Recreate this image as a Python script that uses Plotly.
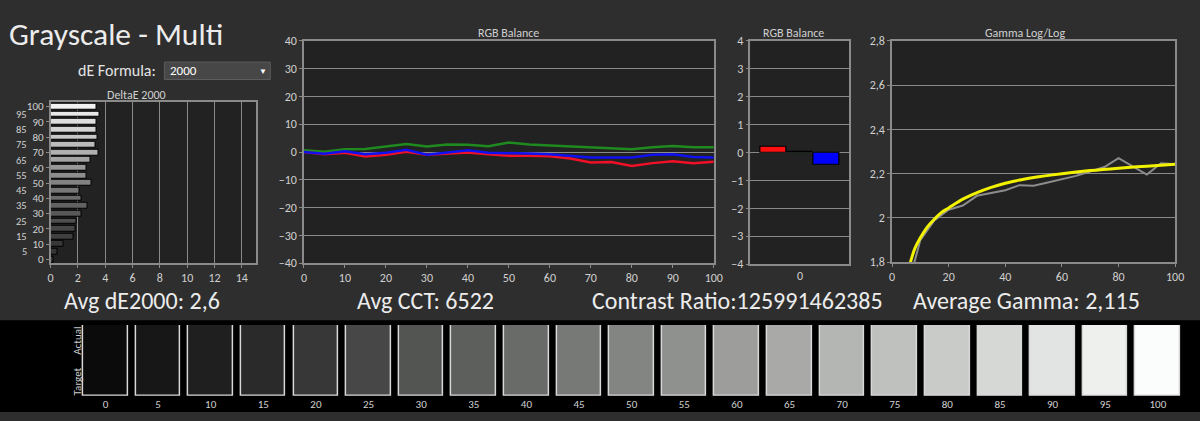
import plotly.graph_objects as go

W, H = 1200, 421
FONT = "Carlito, Calibri, Lato, 'Open Sans', sans-serif"
BG = "#2e2e2e"
PLOT_BG = "#222222"
GRID = "#8a8a8a"
TXT = "#d0d0d0"

# ---------------- data ----------------
de_levels = [0, 5, 10, 15, 20, 25, 30, 35, 40, 45, 50, 55, 60, 65, 70, 75, 80, 85, 90, 95, 100]
de_values = [0.2, 0.5, 0.93, 1.7, 1.85, 1.9, 2.3, 2.7, 2.25, 2.1, 3.0, 2.6, 2.65, 2.95, 3.5, 3.3, 3.45, 3.35, 3.4, 3.6, 3.4]
de_colors = ["#3a3a3a", "#353535", "#383838", "#404040", "#474747", "#4f4f4f", "#585858", "#626262",
             "#6c6c6c", "#777777", "#828282", "#8d8d8d", "#989898", "#a4a4a4", "#b0b0b0", "#bcbcbc",
             "#c8c8c8", "#d4d4d4", "#dedede", "#e8e8e8", "#f2f2f2"]
de_even_ticks = [0, 10, 20, 30, 40, 50, 60, 70, 80, 90, 100]
de_odd_ticks = [5, 15, 25, 35, 45, 55, 65, 75, 85, 95]

rgb_x = [0, 5, 10, 15, 20, 25, 30, 35, 40, 45, 50, 55, 60, 65, 70, 75, 80, 85, 90, 95, 100]
rgb_red = [0.0, -0.8, -0.3, -1.6, -1.0, 0.1, -1.0, -0.7, -0.2, -0.8, -1.3, -1.3, -1.5, -2.3, -3.8, -3.6, -5.0, -4.0, -3.3, -4.0, -3.5]
rgb_green = [0.6, 0.1, 1.0, 1.1, 2.0, 2.9, 2.0, 2.7, 2.6, 2.1, 3.4, 2.7, 2.3, 2.0, 1.7, 1.5, 1.0, 1.7, 2.2, 1.7, 1.7]
rgb_blue = [0.0, -0.6, 0.3, -0.8, -0.3, 0.8, -1.0, -0.2, 0.6, -0.3, -0.3, -0.5, -0.8, -1.4, -2.0, -2.0, -2.0, -1.0, -0.8, -1.8, -2.0]

bal_channels = ["Red", "Green", "Blue"]
bal_values = [0.22, 0.02, -0.44]
bal_colors = ["#ff1010", "#10a010", "#0000ff"]

gamma_x = [5, 10, 15, 20, 25, 30, 35, 40, 45, 50, 55, 60, 65, 70, 75, 80, 85, 90, 95, 100]
gamma_meas = [1.66, 1.90, 1.99, 2.037, 2.056, 2.10, 2.113, 2.125, 2.148, 2.145, 2.16, 2.176, 2.19, 2.21, 2.23, 2.27, 2.233, 2.196, 2.247, 2.243]
gamma_tx = [5.5, 6.5, 8, 10, 12.5, 15, 17.5, 20, 25, 30, 35, 40, 45, 50, 60, 70, 80, 90, 100]
gamma_ty = [1.76, 1.80, 1.86, 1.91, 1.96, 1.995, 2.025, 2.045, 2.085, 2.114, 2.138, 2.157, 2.171, 2.183, 2.2, 2.214, 2.225, 2.234, 2.243]

swatch_levels = ["0", "5", "10", "15", "20", "25", "30", "35", "40", "45", "50", "55", "60", "65", "70", "75", "80", "85", "90", "95", "100"]
swatch_colors = ["#0b0b0b", "#171717", "#1f1f1f", "#2a2a2a", "#373737", "#464746", "#535553", "#5d5f5d",
                 "#696b69", "#777977", "#838583", "#8f918e", "#9d9e9c", "#a9aaa8", "#b4b6b3", "#bfc1be",
                 "#c9cbc8", "#d6d8d6", "#e2e4e3", "#eef0ee", "#fbfdfc"]
swatch_heights = [1] * len(swatch_levels)

stats = ["Avg dE2000: 2,6", "Avg CCT: 6522", "Contrast Ratio:125991462385", "Average Gamma: 2,115"]


def px(x):
    return x / W


def py(y):
    return 1 - y / H


fig = go.Figure()

# DeltaE bars
fig.add_trace(go.Bar(x=de_values, y=de_levels, orientation="h", width=3.8,
                     marker=dict(color=de_colors, line=dict(color="#000000", width=1)),
                     xaxis="x", yaxis="y", showlegend=False))

# RGB balance lines
for vals, col in [(rgb_green, "#1f8a1f"), (rgb_red, "#f01028"), (rgb_blue, "#1010f0")]:
    fig.add_trace(go.Scatter(x=rgb_x, y=vals, mode="lines", line=dict(color=col, width=2.5),
                             xaxis="x2", yaxis="y2", showlegend=False))

# RGB balance small bars
fig.add_trace(go.Bar(x=bal_channels, y=bal_values, width=0.96,
                     marker=dict(color=bal_colors, line=dict(color="#000000", width=1.2)),
                     xaxis="x3", yaxis="y3", showlegend=False))

# Gamma
fig.add_trace(go.Scatter(x=gamma_x, y=gamma_meas, mode="lines", line=dict(color="#8c8c8c", width=2),
                         xaxis="x4", yaxis="y4", showlegend=False))
fig.add_trace(go.Scatter(x=gamma_tx, y=gamma_ty, mode="lines", line=dict(color="#f2f200", width=3, shape="spline"),
                         xaxis="x4", yaxis="y4", showlegend=False))

# Swatches
fig.add_trace(go.Bar(x=swatch_levels, y=swatch_heights, width=0.847,
                     marker=dict(color=swatch_colors, line=dict(color="#d8d8d8", width=1.5)),
                     xaxis="x5", yaxis="y5", showlegend=False))

axis_common = dict(showline=True, mirror=True, linecolor=GRID, linewidth=1.5, ticks="outside", ticklen=3,
                   tickcolor=GRID, tickfont=dict(size=12, color=TXT), zeroline=False, gridcolor=GRID, gridwidth=1.2)

fig.update_layout(
    width=W, height=H, margin=dict(l=0, r=0, t=0, b=0),
    paper_bgcolor=BG, plot_bgcolor="rgba(0,0,0,0)",
    font=dict(family=FONT, color=TXT),
    separators=",.",
    bargap=0,
    xaxis=dict(axis_common, domain=[px(48), px(256)], anchor="y", range=[0, 15.07], dtick=2, tick0=0,
               showgrid=True, tickfont=dict(size=12, color=TXT)),
    yaxis=dict(axis_common, domain=[py(265), py(98)], anchor="x", range=[-2.5, 103.2], tickvals=de_even_ticks,
               showgrid=False, tickfont=dict(size=11, color=TXT)),
    xaxis2=dict(axis_common, domain=[px(304), px(718)], anchor="y2", range=[0, 100], dtick=10, showgrid=False),
    yaxis2=dict(axis_common, domain=[py(265), py(35)], anchor="x2", range=[-40, 40], dtick=10, showgrid=True),
    xaxis3=dict(axis_common, domain=[px(755), px(855)], anchor="y3", type="category", range=[-0.85, 2.85],
                tickvals=["Green"], ticktext=["0"], showgrid=False, ticks=""),
    yaxis3=dict(axis_common, domain=[py(266), py(35)], anchor="x3", range=[-4, 4], dtick=1, showgrid=True),
    xaxis4=dict(axis_common, domain=[px(898), px(1184)], anchor="y4", range=[0, 100], dtick=20, showgrid=False),
    yaxis4=dict(axis_common, domain=[py(264), py(35)], anchor="x4", range=[1.8, 2.8], dtick=0.2, showgrid=True),
    xaxis5=dict(domain=[px(76.9), px(1193.1)], anchor="y5", type="category", showgrid=False, showline=False,
                ticks="", zeroline=False, tickfont=dict(size=11, color=TXT)),
    yaxis5=dict(domain=[py(402), py(329)], anchor="x5", range=[0, 1], visible=False),
)

shapes = [
    dict(type="rect", xref="paper", yref="paper", x0=-0.02, x1=1.02, y0=py(419), y1=py(324),
         fillcolor="#000000", line=dict(width=0), layer="below"),
    dict(type="rect", xref="paper", yref="paper", x0=px(163), x1=px(270), y0=py(75), y1=py(57),
         fillcolor="#474747", line=dict(color="#5c5c5c", width=1), layer="above"),
]
for xr, yr in [("x", "y"), ("x2", "y2"), ("x3", "y3"), ("x4", "y4")]:
    shapes.append(dict(type="rect", xref=f"{xr} domain", yref=f"{yr} domain", x0=0, x1=1, y0=0, y1=1,
                       fillcolor=PLOT_BG, line=dict(width=0), layer="below"))
fig.update_layout(shapes=shapes)

ann = []


def add_text(text, x, y, size, color=TXT, xanchor="center", angle=0):
    ann.append(dict(text=text, x=px(x), y=py(y), xref="paper", yref="paper", xanchor=xanchor, yanchor="middle",
                    showarrow=False, textangle=angle, font=dict(size=size, color=color, family=FONT)))


# staggered odd tick labels of the DeltaE axis
for lv in de_odd_ticks:
    ann.append(dict(text=str(lv), x=px(26.5), y=lv, xref="paper", yref="y", xanchor="right", yanchor="middle",
                    showarrow=False, font=dict(size=10.5, color=TXT, family=FONT)))

add_text("Grayscale - Multi", 4, 28, 31.5, color="#ececec", xanchor="left")
add_text("dE Formula:", 157, 66, 16, color="#e4e4e4", xanchor="right")
add_text("2000", 167, 66, 13, color="#ffffff", xanchor="left")
add_text("\u25bc", 263, 66, 8, color="#ffffff")
add_text("DeltaE 2000", 135, 91, 12)
add_text("RGB Balance", 511, 27, 12)
add_text("RGB Balance", 798, 27, 12)
add_text("Gamma Log/Log", 1032, 27, 12)
for s, cx in zip(stats, [140, 427, 742, 1034]):
    add_text(s, cx, 304, 24, color="#ececec")
add_text("Actual", 75, 345, 11, angle=-90)
add_text("Target", 75, 387, 11, angle=-90)
fig.update_layout(annotations=ann)

fig.write_html("out.html")
